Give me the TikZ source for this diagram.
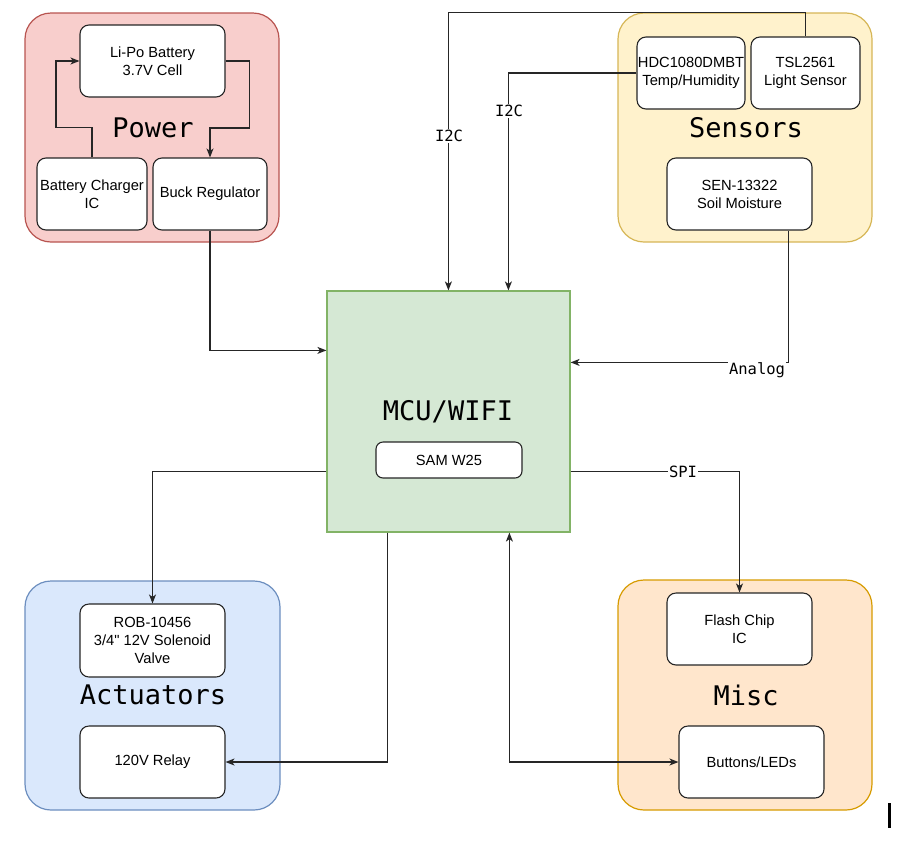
\documentclass[tikz,border=0pt]{standalone}
\usepackage{fontspec}
\setmainfont{Liberation Sans}[Ligatures=TeXOff]
\newfontfamily\monof{DejaVu Sans Mono}
\usetikzlibrary{arrows.meta,calc}
\definecolor{pwrF}{HTML}{F8CECC}\definecolor{pwrS}{HTML}{B85450}
\definecolor{senF}{HTML}{FFF2CC}\definecolor{senS}{HTML}{D6B656}
\definecolor{mcuF}{HTML}{D5E8D4}\definecolor{mcuS}{HTML}{82B366}
\definecolor{actF}{HTML}{DAE8FC}\definecolor{actS}{HTML}{6C8EBF}
\definecolor{miscF}{HTML}{FFE6CC}\definecolor{miscS}{HTML}{D79B00}
\begin{document}
\begin{tikzpicture}[x=1pt,y=-1pt,
  group/.style={draw=#1S,fill=#1F,line width=1.2pt,rounded corners=26pt,inner sep=0pt},
  part/.style={draw=black!85,fill=white,line width=1.1pt,rounded corners=9pt,align=center,inner sep=0pt,
    font=\fontsize{14.7}{18}\selectfont},
  title/.style={font=\monof\fontsize{27}{30}\selectfont,inner sep=0pt},
  lbl/.style={font=\monof\fontsize{15.5}{18}\selectfont,fill=white,inner sep=1pt},
  conn/.style={line width=1.2pt,draw=black!85},
  arr/.style={conn,-{Stealth[length=9pt,width=7pt,inset=2.5pt]}},
  darr/.style={conn,{Stealth[length=9pt,width=7pt,inset=2.5pt]}-{Stealth[length=9pt,width=7pt,inset=2.5pt]}}]
\useasboundingbox (0,0) rectangle (901,844);
% groups
\node[group=pwr,minimum width=254pt,minimum height=229pt] (power) at (152,127.5) {};
\node[group=sen,minimum width=254pt,minimum height=229pt] (sensors) at (745,127.5) {};
\node[group=act,minimum width=255pt,minimum height=229pt] (act) at (152.5,695.5) {};
\node[group=misc,minimum width=254pt,minimum height=230pt] (misc) at (745,695) {};
\node[draw=mcuS,fill=mcuF,line width=1.2pt,minimum width=243pt,minimum height=241pt] (mcu) at (448.5,411.5) {};
% titles
\node[title] (tpower) at (153,128) {Power};
\node[title] (tsens) at (746,128) {Sensors};
\node[title] (tact) at (153,695) {Actuators};
\node[title] (tmisc) at (746,695) {Misc};
\node[title] (tmcu) at (448,412) {MCU/WIFI};
% parts
\node[part,minimum width=145pt,minimum height=72pt] (lipo) at (152.5,61) {Li-Po Battery\\3.7V Cell};
\node[part,minimum width=110pt,minimum height=72pt] (charger) at (92,194) {Battery Charger\\IC};
\node[part,minimum width=114pt,minimum height=72pt] (buck) at (210,194) {Buck Regulator};
\node[part,minimum width=108pt,minimum height=72pt] (hdc) at (691,73) {HDC1080DMBT\\Temp/Humidity};
\node[part,minimum width=109pt,minimum height=72pt] (tsl) at (805.5,73) {TSL2561\\Light Sensor};
\node[part,minimum width=145pt,minimum height=72pt] (soil) at (739.5,194) {SEN-13322\\Soil Moisture};
\node[part,minimum width=146pt,minimum height=36pt,rounded corners=7pt] (sam) at (449,460) {SAM W25};
\node[part,minimum width=145pt,minimum height=73pt] (rob) at (152.5,640.5) {ROB-10456\\3/4" 12V Solenoid\\Valve};
\node[part,minimum width=145pt,minimum height=72pt] (relay) at (152.5,762) {120V Relay};
\node[part,minimum width=145pt,minimum height=72pt] (flash) at (739.5,629) {Flash Chip\\IC};
\node[part,minimum width=145pt,minimum height=72pt] (buttons) at (751.5,762) {Buttons/LEDs};
% power connectors
\draw[arr] (lipo.east) -- ++(24,0) -- ++(0,67) -| (buck.north);
\draw[arr] (charger.north) -- ++(0,-30) -- ++(-36,0) |- (lipo.west);
\draw[arr] (buck.south) |- ($(mcu.north west)+(0,60)$);
% sensors
\draw[arr] (tsl.north) -- ++(0,-24) -| ($(mcu.north west)+(122,0)$);
\draw[arr] (hdc.west) -| ($(mcu.north west)+(182,0)$);
\draw[arr] ($(soil.south east)+(-24,0)$) |- ($(mcu.north east)+(0,72)$);
% spi
\draw[arr] ($(mcu.north east)+(0,181)$) -| (flash.north);
% actuators
\draw[arr] ($(mcu.north west)+(0,181)$) -| (rob.north);
\draw[arr] ($(mcu.south west)+(61,0)$) |- (relay.east);
\draw[darr] ($(mcu.south west)+(183,0)$) |- (buttons.west);
% labels
\node[lbl] (l1) at (449,136) {I2C};
\node[lbl] (l2) at (509,111) {I2C};
\node[lbl] (l3) at (757,370) {Analog};
\node[lbl] (l4) at (683,472) {SPI};
% stray bar
\fill[black] (888,803) rectangle (891,828);
\end{tikzpicture}
\end{document}
